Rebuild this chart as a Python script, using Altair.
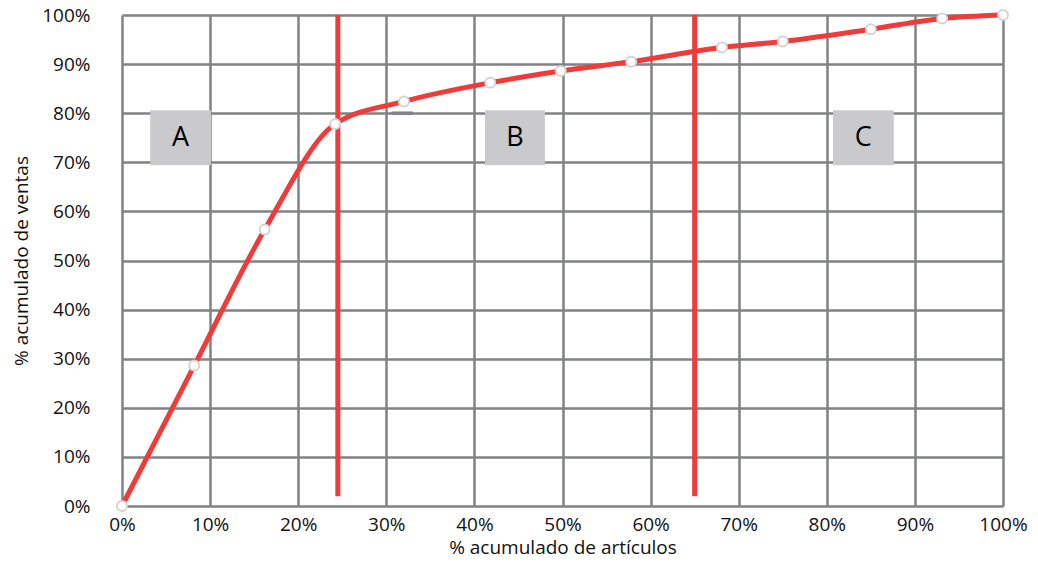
import altair as alt
import pandas as pd

# Cumulative curve (Pareto / ABC)
pct_items = [0.0, 0.082, 0.162, 0.242, 0.32, 0.418, 0.498, 0.578, 0.681, 0.75, 0.85, 0.931, 1.0]
pct_sales = [0.0, 0.286, 0.563, 0.778, 0.824, 0.862, 0.886, 0.905, 0.934, 0.946, 0.971, 0.993, 1.0]

# Zone separators
cut_x = [0.245, 0.65]
cut_y_from = [0.02, 0.02]
cut_y_to = [1.0, 1.0]

# Zone labels
zone_names = ["A", "B", "C"]
zone_x0 = [0.032, 0.412, 0.807]
zone_x1 = [0.101, 0.48, 0.876]
zone_y0 = [0.694, 0.694, 0.694]
zone_y1 = [0.806, 0.806, 0.806]

FONT = "Open Sans"
RED = "#EF3B39"
GRID = "#808285"

curve = pd.DataFrame({"x": pct_items, "y": pct_sales})
cuts = pd.DataFrame({"x": cut_x, "y": cut_y_from, "y2": cut_y_to})
zones = pd.DataFrame({"name": zone_names, "x": zone_x0, "x2": zone_x1, "y": zone_y0, "y2": zone_y1})
zones["xm"] = (zones["x"] + zones["x2"]) / 2
zones["ym"] = (zones["y"] + zones["y2"]) / 2
dash = pd.DataFrame({"x": [0.306], "x2": [0.33], "y": [0.8]})

xs = alt.Scale(domain=[0, 1], nice=False, zero=False)
ys = alt.Scale(domain=[0, 1], nice=False, zero=False)
ticks = [i / 10 for i in range(11)]

xaxis = alt.Axis(values=ticks, format=".0%", title="% acumulado de artículos",
                 grid=True, gridColor=GRID, gridWidth=2.5, gridOpacity=1,
                 domain=False, ticks=False, labelPadding=9, labelFontSize=19,
                 labelFlush=False, labelOverlap=False,
                 labelFont=FONT, labelColor="#111", titleFont=FONT, titleFontSize=19,
                 titleFontWeight="normal", titleColor="#111", titlePadding=4)
yaxis = alt.Axis(values=ticks, format=".0%", title="% acumulado de ventas",
                 grid=True, gridColor=GRID, gridWidth=2.5, gridOpacity=1,
                 domain=False, ticks=False, labelPadding=32, labelFontSize=19,
                 labelFlush=False, labelOverlap=False,
                 labelFont=FONT, labelColor="#111", titleFont=FONT, titleFontSize=19,
                 titleFontWeight="normal", titleColor="#111", titlePadding=10)

base_grid = alt.Chart(curve).mark_point(opacity=0).encode(
    x=alt.X("x:Q", scale=xs, axis=xaxis),
    y=alt.Y("y:Q", scale=ys, axis=yaxis),
)

boxes = alt.Chart(zones).mark_rect(color="#CAC9CC").encode(
    x=alt.X("x:Q", scale=xs), x2="x2", y=alt.Y("y:Q", scale=ys), y2="y2")
box_text = alt.Chart(zones).mark_text(font=FONT, fontSize=27, color="#000").encode(
    x=alt.X("xm:Q", scale=xs), y=alt.Y("ym:Q", scale=ys), text="name:N")

dash_rule = alt.Chart(dash).mark_rule(color=GRID, strokeWidth=3.5).encode(
    x=alt.X("x:Q", scale=xs), x2="x2", y=alt.Y("y:Q", scale=ys))

cut_rules = alt.Chart(cuts).mark_rule(color=RED, strokeWidth=5).encode(
    x=alt.X("x:Q", scale=xs), y=alt.Y("y:Q", scale=ys), y2="y2")

line = alt.Chart(curve).mark_line(color=RED, strokeWidth=5, interpolate="monotone").encode(
    x=alt.X("x:Q", scale=xs), y=alt.Y("y:Q", scale=ys))

pts = alt.Chart(curve).mark_circle(color="white", size=100, opacity=1,
                                   stroke="#d4d4d4", strokeWidth=2).encode(
    x=alt.X("x:Q", scale=xs), y=alt.Y("y:Q", scale=ys))

chart = alt.layer(base_grid, boxes, box_text, dash_rule, cut_rules, line, pts).properties(
    width=881, height=491,
    autosize=alt.AutoSizeParams(type="none"),
    padding={"left": 114, "top": 7, "right": 25, "bottom": 54},
).configure_view(stroke=None).configure(background="white")

chart.save("out.html", embed_options={"renderer": "svg", "actions": False})
